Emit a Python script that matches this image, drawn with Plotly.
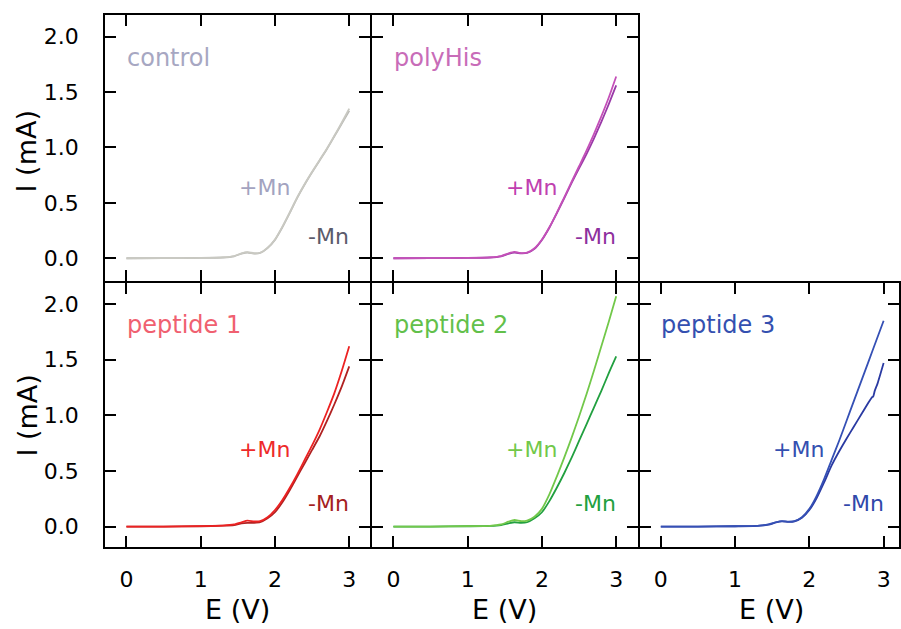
import plotly.graph_objects as go

# ---------------- data ----------------
E = [0, 0.5, 1.0, 1.3, 1.45, 1.55, 1.63, 1.72, 1.8, 1.9, 2.0, 2.1, 2.2, 2.3, 2.4, 2.5, 2.6, 2.7, 2.8, 2.9, 3.0]

control_plus = [0, 0.001, 0.003, 0.008, 0.02, 0.045, 0.055, 0.045, 0.05, 0.095, 0.17, 0.285, 0.415, 0.55, 0.67, 0.78, 0.885, 0.99, 1.105, 1.225, 1.35]
control_minus = [0, 0.001, 0.003, 0.007, 0.018, 0.042, 0.052, 0.043, 0.048, 0.092, 0.166, 0.28, 0.41, 0.545, 0.665, 0.775, 0.88, 0.985, 1.10, 1.215, 1.33]

polyhis_plus = [0, 0.001, 0.003, 0.008, 0.02, 0.045, 0.058, 0.047, 0.05, 0.09, 0.17, 0.28, 0.41, 0.55, 0.69, 0.83, 0.97, 1.12, 1.28, 1.45, 1.64]
polyhis_minus = [0, 0.001, 0.003, 0.007, 0.018, 0.04, 0.052, 0.044, 0.048, 0.085, 0.165, 0.275, 0.405, 0.54, 0.68, 0.81, 0.94, 1.08, 1.23, 1.39, 1.56]

pep1_plus = [0, 0.001, 0.005, 0.01, 0.02, 0.04, 0.055, 0.047, 0.05, 0.085, 0.15, 0.24, 0.35, 0.47, 0.60, 0.73, 0.87, 1.03, 1.20, 1.40, 1.62]
pep1_minus = [0, 0.001, 0.004, 0.009, 0.015, 0.03, 0.035, 0.035, 0.04, 0.075, 0.13, 0.22, 0.33, 0.45, 0.57, 0.69, 0.81, 0.95, 1.10, 1.26, 1.44]

pep2_plus = [0, 0.001, 0.005, 0.008, 0.02, 0.045, 0.06, 0.05, 0.055, 0.09, 0.16, 0.29, 0.45, 0.62, 0.80, 0.99, 1.19, 1.40, 1.62, 1.84, 2.07]
pep2_minus = [0, 0.001, 0.004, 0.007, 0.015, 0.03, 0.04, 0.035, 0.04, 0.075, 0.13, 0.23, 0.35, 0.48, 0.62, 0.77, 0.92, 1.07, 1.22, 1.38, 1.53]

pep3_plus = [0, 0.001, 0.004, 0.008, 0.02, 0.04, 0.05, 0.045, 0.05, 0.085, 0.16, 0.28, 0.43, 0.60, 0.77, 0.95, 1.13, 1.31, 1.49, 1.67, 1.85]
E_pep3_minus = [0, 0.5, 1.0, 1.3, 1.45, 1.55, 1.63, 1.72, 1.8, 1.9, 2.0, 2.1, 2.2, 2.3, 2.4, 2.5, 2.6, 2.7, 2.8, 2.84, 2.86, 2.88, 2.92, 3.0]
pep3_minus = [0, 0.001, 0.004, 0.008, 0.018, 0.038, 0.048, 0.043, 0.048, 0.08, 0.15, 0.26, 0.40, 0.55, 0.675, 0.79, 0.90, 1.01, 1.12, 1.16, 1.17, 1.22, 1.29, 1.47]

panel_names = ["control", "polyHis", "peptide 1", "peptide 2", "peptide 3"]
x_ticks = [0, 1, 2, 3]
y_ticks = [0.0, 0.5, 1.0, 1.5, 2.0]

# ---------------- style ----------------
FONT = "DejaVu Sans"
W, H = 901, 629

def px_x(a, b):
    return [a / W, min(b / W, 1.0)]

def px_y(top, bottom):
    return [(H - bottom) / H, (H - top) / H]

panels = [
    dict(key="1", xd=px_x(105.5, 371), yd=px_y(15, 281), xr=[-0.285, 3.282], yr=[-0.205, 2.194], showx=False, showy=True),
    dict(key="2", xd=px_x(373, 639), yd=px_y(15, 281), xr=[-0.286, 3.288], yr=[-0.205, 2.194], showx=False, showy=False),
    dict(key="3", xd=px_x(105.5, 371), yd=px_y(283, 547.3), xr=[-0.285, 3.282], yr=[-0.185, 2.189], showx=True, showy=True),
    dict(key="4", xd=px_x(373, 639), yd=px_y(283, 547.3), xr=[-0.286, 3.288], yr=[-0.185, 2.189], showx=True, showy=False),
    dict(key="5", xd=px_x(641, 901), yd=px_y(283, 547.3), xr=[-0.286, 3.207], yr=[-0.185, 2.189], showx=True, showy=False),
]

series = [
    (E, control_plus, E, control_minus, "#c9c9c2", "#b8b8b4",
     "#a7a7c2", "#a3a3c0", "#5b5b6b"),
    (E, polyhis_plus, E, polyhis_minus, "#c450b8", "#9a3aa8",
     "#c86cb8", "#c040b0", "#8e2f9e"),
    (E, pep1_plus, E, pep1_minus, "#ec2222", "#b02222",
     "#f06070", "#ee2a2a", "#a42020"),
    (E, pep2_plus, E, pep2_minus, "#72c84a", "#22a040",
     "#62c04a", "#72c84a", "#22a040"),
    (E, pep3_plus, E_pep3_minus, pep3_minus, "#3550b5", "#2a3aa2",
     "#3450b0", "#3450b0", "#3048aa"),
]

fig = go.Figure()
annotations = []
layout = {}

for p, s, name in zip(panels, series, panel_names):
    k = p["key"]
    xa = "x" if k == "1" else "x" + k
    ya = "y" if k == "1" else "y" + k
    ex1, yp, ex2, ym, cplus, cminus, cname, cpl, cmi = s
    fig.add_trace(go.Scatter(x=ex2, y=ym, mode="lines", xaxis=xa, yaxis=ya,
                             line=dict(color=cminus, width=1.8, shape="spline", smoothing=0.5),
                             showlegend=False, hoverinfo="skip"))
    fig.add_trace(go.Scatter(x=ex1, y=yp, mode="lines", xaxis=xa, yaxis=ya,
                             line=dict(color=cplus, width=1.8, shape="spline", smoothing=0.6),
                             showlegend=False, hoverinfo="skip"))
    axis_common = dict(showline=True, linecolor="black", linewidth=2, mirror="ticks",
                       ticks="inside", ticklen=11, tickwidth=2, tickcolor="black",
                       showgrid=False, zeroline=False,
                       tickfont=dict(family=FONT, size=22, color="black"))
    xname = "xaxis" if k == "1" else "xaxis" + k
    yname = "yaxis" if k == "1" else "yaxis" + k
    layout[xname] = dict(axis_common, domain=p["xd"], range=p["xr"], anchor=ya,
                         tickvals=x_ticks, ticktext=[str(t) for t in x_ticks],
                         showticklabels=p["showx"], ticklabelstandoff=11)
    layout[yname] = dict(axis_common, domain=p["yd"], range=p["yr"], anchor=xa,
                         tickvals=y_ticks, ticktext=["%.1f" % t for t in y_ticks],
                         showticklabels=p["showy"], ticklabelstandoff=20)
    annotations.append(dict(xref=xa, yref=ya, x=-0.02, y=1.81, text=name, showarrow=False,
                            xanchor="left", yanchor="middle",
                            font=dict(family=FONT, size=24, color=cname)))
    top = k in ("1", "2")
    annotations.append(dict(xref=xa, yref=ya, x=1.49, y=0.64 if top else 0.69, text="+Mn",
                            showarrow=False, xanchor="left", yanchor="middle",
                            font=dict(family=FONT, size=22, color=cpl)))
    annotations.append(dict(xref=xa, yref=ya, x=3.03, y=0.2 if top else 0.21, text="-Mn",
                            showarrow=False, xanchor="right", yanchor="middle",
                            font=dict(family=FONT, size=22, color=cmi)))

# axis titles
for cx in [(104.5 + 372) / 2, (372 + 640) / 2, (640 + 907) / 2]:
    annotations.append(dict(xref="paper", yref="paper", x=cx / W, y=(H - 609) / H,
                            text="E (V)", showarrow=False, xanchor="center", yanchor="middle",
                            font=dict(family=FONT, size=27, color="black")))
for cy in [(14 + 282) / 2 + 3, (282 + 548.3) / 2]:
    annotations.append(dict(xref="paper", yref="paper", x=27.5 / W, y=(H - cy) / H,
                            text="I (mA)", showarrow=False, textangle=-90,
                            xanchor="center", yanchor="middle",
                            font=dict(family=FONT, size=27, color="black")))

fig.update_layout(
    width=W, height=H,
    margin=dict(l=0, r=0, t=0, b=0),
    paper_bgcolor="white", plot_bgcolor="white",
    annotations=annotations,
    showlegend=False,
    **layout,
)

fig.write_html("out.html",
               config={"displayModeBar": False},
               post_script="document.body.style.margin='0';document.body.style.padding='0';"
                           "document.documentElement.style.overflow='hidden';")
